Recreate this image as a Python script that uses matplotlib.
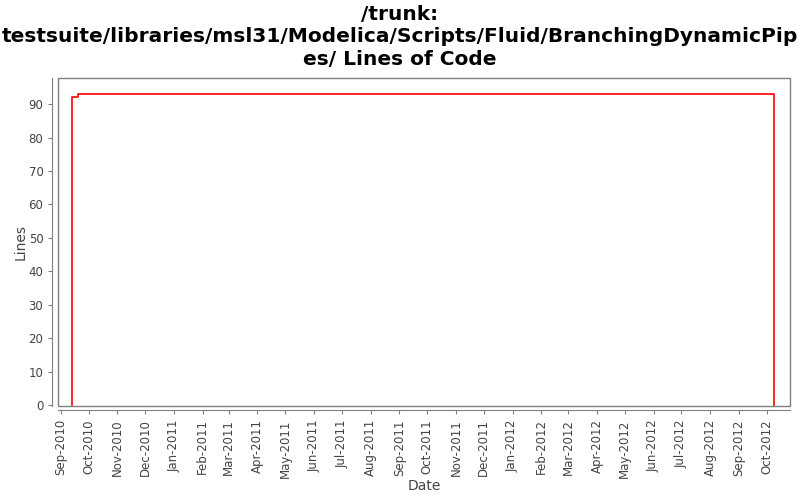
import datetime as dt
import matplotlib
matplotlib.use("Agg")
import matplotlib.pyplot as plt
import matplotlib.dates as mdates
from matplotlib.patches import Rectangle

# Lines of code over time (step chart)
dates = [dt.datetime(2010, 9, 13), dt.datetime(2010, 9, 13),
         dt.datetime(2010, 9, 20), dt.datetime(2012, 10, 9),
         dt.datetime(2012, 10, 9)]
lines = [0, 92, 93, 93, 0]

tick_dates = [dt.datetime(y, m, 1) for y, m in
              [(2010, 9), (2010, 10), (2010, 11), (2010, 12)] +
              [(2011, m) for m in range(1, 13)] +
              [(2012, m) for m in range(1, 11)]]
y_ticks = list(range(0, 100, 10))

title = ("/trunk:\ntestsuite/libraries/msl31/Modelica/Scripts/Fluid/BranchingDynamicPip\n"
         "es/ Lines of Code")

fig = plt.figure(figsize=(8, 5), dpi=100)
ax = fig.add_axes([58 / 800, 1 - 406 / 500, 732 / 800, 328 / 500])

ax.plot(dates, lines, color="red", linewidth=1.2, drawstyle="steps-post")

ax.set_xlim(dt.datetime(2010, 8, 29), dt.datetime(2012, 10, 26))
ax.set_ylim(-0.3, 97.8)
ax.set_xticks(tick_dates)
ax.xaxis.set_major_formatter(mdates.DateFormatter("%b-%Y"))
ax.set_yticks(y_ticks)

grey = "#808080"
for s in ["top", "right"]:
    ax.spines[s].set_visible(False)
ax.spines["left"].set_position(("outward", 4))
ax.spines["bottom"].set_position(("outward", 3))
for s in ["left", "bottom"]:
    ax.spines[s].set_color(grey)
ax.add_patch(Rectangle((0, 0), 1, 1, transform=ax.transAxes, fill=False,
                       edgecolor=grey, linewidth=1.0, clip_on=False))

ax.tick_params(axis="x", rotation=90, labelsize=8.5, colors=grey,
               labelcolor="#444444", length=3)
ax.tick_params(axis="y", labelsize=8.5, colors=grey,
               labelcolor="#444444", length=3)

ax.set_xlabel("Date", fontsize=10, color="#444444", labelpad=1)
ax.set_ylabel("Lines", fontsize=10, color="#444444", labelpad=1)

fig.text(0.5, 1 - 37 / 500, title, fontsize=14.5, fontweight="bold",
         ha="center", va="center", linespacing=1.22)

fig.savefig("out.png", dpi=100)
